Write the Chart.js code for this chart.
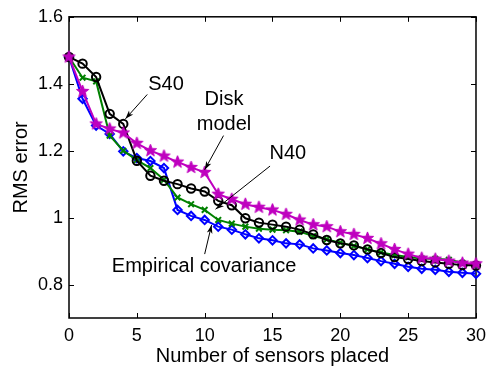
<!DOCTYPE html>
<html>
<head>
<meta charset="utf-8">
<script src="https://cdn.jsdelivr.net/npm/chart.js@4/dist/chart.umd.min.js"></script>
<style>
  html, body { margin: 0; padding: 0; background: #fff; }
  #wrap { width: 493px; height: 368px; }
</style>
</head>
<body>
<div id="wrap"><canvas id="c" width="493" height="368"></canvas></div>
<script>
// Number of sensors placed
const sensors = [0, 1, 2, 3, 4, 5, 6, 7, 8, 9, 10, 11, 12, 13, 14, 15, 16, 17, 18, 19, 20, 21, 22, 23, 24, 25, 26, 27, 28, 29, 30];

// RMS error per method
const s40 = [1.48, 1.46, 1.42, 1.31, 1.28, 1.17, 1.125, 1.11, 1.10, 1.087, 1.078, 1.05, 1.037, 0.998, 0.985, 0.979, 0.973, 0.964, 0.95, 0.933, 0.923, 0.917, 0.905, 0.894, 0.882, 0.876, 0.87, 0.866, 0.862, 0.858, 0.857];
const n40 = [1.48, 1.418, 1.407, 1.245, 1.20, 1.172, 1.148, 1.113, 1.06, 1.04, 1.023, 0.993, 0.982, 0.973, 0.967, 0.964, 0.962, 0.958, 0.945, 0.935, 0.925, 0.915, 0.905, 0.896, 0.888, 0.882, 0.878, 0.877, 0.874, 0.865, 0.858];
const empirical = [1.48, 1.355, 1.275, 1.25, 1.198, 1.178, 1.169, 1.148, 1.023, 1.005, 0.993, 0.973, 0.964, 0.95, 0.938, 0.932, 0.923, 0.92, 0.908, 0.902, 0.894, 0.888, 0.879, 0.87, 0.862, 0.853, 0.847, 0.844, 0.838, 0.835, 0.832];
const diskModel = [1.48, 1.377, 1.28, 1.265, 1.253, 1.222, 1.2, 1.184, 1.166, 1.15, 1.135, 1.07, 1.055, 1.04, 1.031, 1.023, 1.01, 0.993, 0.979, 0.973, 0.958, 0.95, 0.938, 0.922, 0.905, 0.891, 0.879, 0.876, 0.87, 0.864, 0.862];

// Axis ticks
const xTicks = [0, 5, 10, 15, 20, 25, 30];
const yTicks = [0.8, 1.0, 1.2, 1.4, 1.6];

// Callout labels (text lines, label centre, arrow tail, arrow tip) in data units
const calloutText = [["S40"], ["Disk", "model"], ["N40"], ["Empirical covariance"]];
const calloutAt = [[7.15, 1.398], [11.43, 1.315], [16.13, 1.193], [9.96, 0.855]];
const arrowFrom = [[5.77, 1.368], [11.39, 1.245], [14.82, 1.154], [10.0, 0.891]];
const arrowTo = [[4.16, 1.295], [10.0, 1.143], [10.8, 1.025], [10.51, 0.978]];

const pts = ys => sensors.map((x, i) => ({ x: x, y: ys[i] }));

// filled five-pointed star marker
function starMarker(color, r) {
  const size = Math.ceil(r * 2 + 2);
  const cv = document.createElement('canvas');
  cv.width = size; cv.height = size;
  const g = cv.getContext('2d');
  const c = size / 2, ri = r * 0.42;
  g.beginPath();
  for (let k = 0; k < 10; k++) {
    const rr = k % 2 === 0 ? r : ri;
    const a = -Math.PI / 2 + k * Math.PI / 5;
    const px = c + rr * Math.cos(a), py = c + rr * Math.sin(a);
    if (k === 0) g.moveTo(px, py); else g.lineTo(px, py);
  }
  g.closePath();
  g.fillStyle = color;
  g.fill();
  g.strokeStyle = color;
  g.lineWidth = 1;
  g.stroke();
  return cv;
}

const MAG = 'rgb(191,0,191)';
const GRN = 'rgb(0,128,0)';
const BLU = 'rgb(0,0,255)';
const FONT = '"Liberation Sans", Arial, sans-serif';

// axes box with inward ticks on all four sides, plus the callouts
const boxPlugin = {
  id: 'box',
  beforeDatasetsDraw(chart) {
    const { ctx, chartArea: a, scales } = chart;
    ctx.save();
    ctx.strokeStyle = '#000';
    ctx.lineWidth = 1.5;
    ctx.strokeRect(a.left, a.top, a.right - a.left, a.bottom - a.top);
    ctx.lineWidth = 1;
    const tl = 5;
    ctx.beginPath();
    xTicks.forEach(v => {
      const px = Math.round(scales.x.getPixelForValue(v)) + 0.5;
      ctx.moveTo(px, a.bottom); ctx.lineTo(px, a.bottom - tl);
      ctx.moveTo(px, a.top); ctx.lineTo(px, a.top + tl);
    });
    yTicks.forEach(v => {
      const py = Math.round(scales.y.getPixelForValue(v)) + 0.5;
      ctx.moveTo(a.left, py); ctx.lineTo(a.left + tl, py);
      ctx.moveTo(a.right, py); ctx.lineTo(a.right - tl, py);
    });
    ctx.stroke();
    ctx.restore();
  },
  afterDraw(chart) {
    const { ctx, scales } = chart;
    const X = v => scales.x.getPixelForValue(v);
    const Y = v => scales.y.getPixelForValue(v);
    ctx.save();
    ctx.fillStyle = '#000';
    ctx.strokeStyle = '#000';
    ctx.font = '20px ' + FONT;
    ctx.textAlign = 'center';
    ctx.textBaseline = 'middle';
    calloutText.forEach((lines, i) => {
      const cx = X(calloutAt[i][0]), cy = Y(calloutAt[i][1]);
      const lh = 25;
      lines.forEach((t, j) => {
        ctx.fillText(t, cx, cy + (j - (lines.length - 1) / 2) * lh);
      });
      const x0 = X(arrowFrom[i][0]), y0 = Y(arrowFrom[i][1]);
      const x1 = X(arrowTo[i][0]), y1 = Y(arrowTo[i][1]);
      ctx.lineWidth = 1;
      ctx.beginPath();
      ctx.moveTo(x0, y0); ctx.lineTo(x1, y1);
      ctx.stroke();
      const ang = Math.atan2(y1 - y0, x1 - x0);
      const hl = 9, hw = 0.32;
      ctx.beginPath();
      ctx.moveTo(x1, y1);
      ctx.lineTo(x1 - hl * Math.cos(ang - hw), y1 - hl * Math.sin(ang - hw));
      ctx.lineTo(x1 - hl * 0.7 * Math.cos(ang), y1 - hl * 0.7 * Math.sin(ang));
      ctx.lineTo(x1 - hl * Math.cos(ang + hw), y1 - hl * Math.sin(ang + hw));
      ctx.closePath();
      ctx.fill();
    });
    ctx.restore();
  }
};

new Chart(document.getElementById('c'), {
  type: 'line',
  data: {
    datasets: [
      { label: 'Disk model', data: pts(diskModel), borderColor: MAG, backgroundColor: MAG,
        borderWidth: 2, pointStyle: starMarker(MAG, 6.5), pointRadius: 6, order: 0 },
      { label: 'S40', data: pts(s40), borderColor: '#000', backgroundColor: 'rgba(0,0,0,0)',
        borderWidth: 2, pointStyle: 'circle', pointRadius: 4.2, pointBorderWidth: 2, order: 1 },
      { label: 'N40', data: pts(n40), borderColor: GRN, backgroundColor: GRN,
        borderWidth: 2, pointStyle: 'crossRot', pointRadius: 4, pointBorderWidth: 2, order: 2 },
      { label: 'Empirical covariance', data: pts(empirical), borderColor: BLU, backgroundColor: 'rgba(0,0,0,0)',
        borderWidth: 2, pointStyle: 'rectRot', pointRadius: 4.2, pointBorderWidth: 2, order: 3 }
    ]
  },
  options: {
    responsive: false,
    animation: false,
    events: [],
    layout: { padding: { top: 11, right: 13, left: 0, bottom: 0 } },
    elements: { line: { tension: 0 } },
    datasets: { line: { clip: false } },
    plugins: { legend: { display: false }, tooltip: { enabled: false } },
    scales: {
      x: {
        type: 'linear', min: 0, max: 30,
        afterBuildTicks: s => { s.ticks = xTicks.map(v => ({ value: v })); },
        afterFit: s => { s.height = 50; },
        grid: { display: false, drawTicks: false },
        border: { display: false },
        ticks: { color: '#000', font: { family: FONT, size: 18 }, padding: 7, maxRotation: 0 },
        title: { display: true, text: 'Number of sensors placed', color: '#000',
                 font: { family: FONT, size: 20 }, padding: { top: 0, bottom: 0 } }
      },
      y: {
        type: 'linear', min: 0.7, max: 1.6,
        afterBuildTicks: s => { s.ticks = yTicks.map(v => ({ value: v })); },
        afterFit: s => { s.width = 69; },
        grid: { display: false, drawTicks: false },
        border: { display: false },
        ticks: { color: '#000', font: { family: FONT, size: 18 }, padding: 6,
                 callback: v => String(+(+v).toFixed(1)) },
        title: { display: true, text: 'RMS error', color: '#000',
                 font: { family: FONT, size: 20 }, padding: { top: 9, bottom: 0 } }
      }
    }
  },
  plugins: [boxPlugin]
});
</script>
</body>
</html>
